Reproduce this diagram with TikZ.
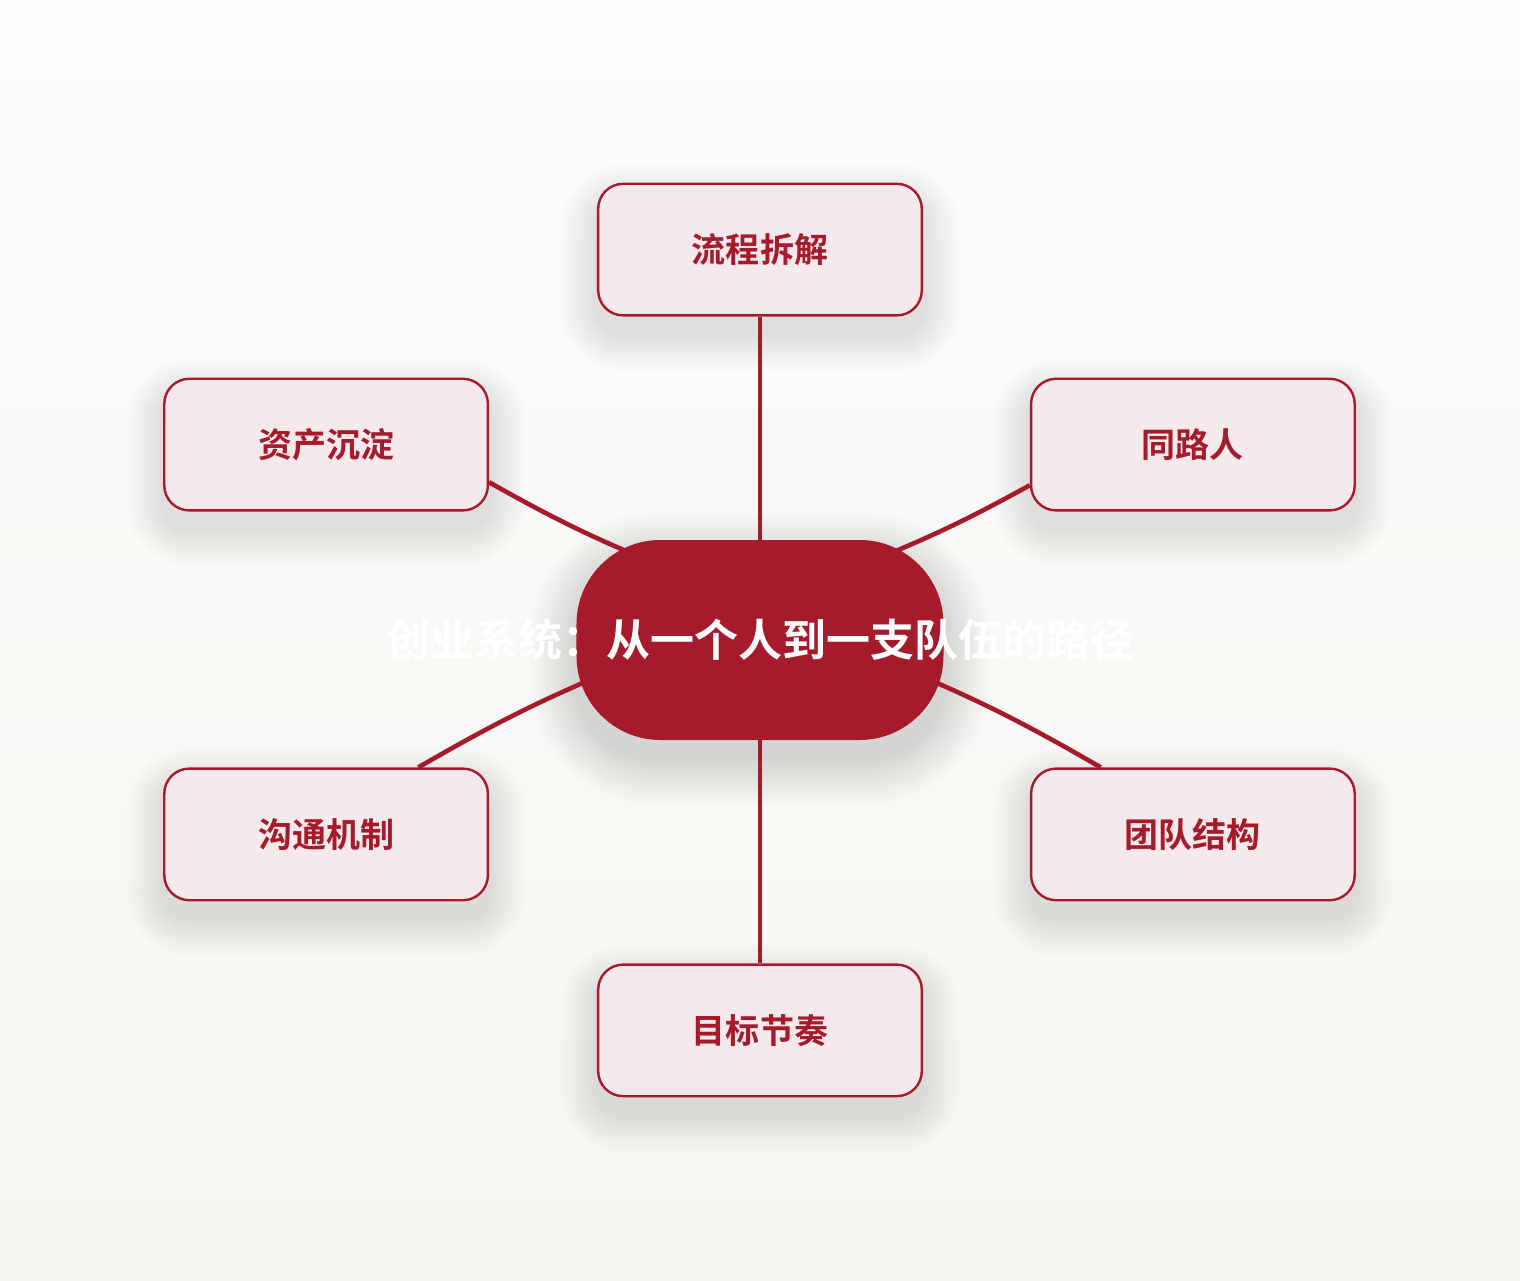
\documentclass[tikz,border=0pt]{standalone}
\usepackage{fontspec}
\setmainfont{Noto Sans CJK SC}[BoldFont={Noto Sans CJK SC Bold}]
\usepackage{xcolor}
\usetikzlibrary{positioning, calc, backgrounds}
\definecolor{hubred}{RGB}{165,27,43}
\definecolor{topicfill}{RGB}{245,233,235}
\definecolor{paperTop}{RGB}{253,253,252}
\definecolor{paperBottom}{RGB}{247,245,241}
\newcommand{\softshadow}[4]{%
  \foreach \k [evaluate=\k as \d using 1.3*\k, evaluate=\k as \r using #3+1.3*\k] in {1,...,#2}
    \fill[black, opacity=#4, rounded corners=\r pt]
      ($(#1.south west)+(-\d pt,-\d pt-9pt)$) rectangle ($(#1.north east)+(\d pt,\d pt-9pt)$);}

\begin{document}
\begin{tikzpicture}[node distance=111.5pt, every node/.style={font=\bfseries},
  hub/.style={rectangle, rounded corners=42pt, fill=hubred, minimum width=183.5pt, minimum height=100pt, inner sep=0pt, text=white, font=\bfseries\fontsize{22pt}{26pt}\selectfont},
  topic/.style={draw=hubred, line width=1.2pt, rectangle, rounded corners=12.5pt, fill=topicfill, minimum width=161.8pt, minimum height=65.8pt, text=hubred, font=\bfseries\fontsize{17pt}{20pt}\selectfont},
  link/.style={draw=hubred, line width=2.3pt}]
\useasboundingbox (-380pt,-320pt) rectangle (380pt,320pt);
\node (hub) [hub] {\makebox[0pt]{创业系统：从一个人到一支队伍的路径}};
\node (flow) [topic, above=of hub] {流程拆解};
\node (goals) [topic, below=of hub] {目标节奏};
\node (assets) [topic, above left=14pt and 43.5pt of hub] {资产沉淀};
\node (peers) [topic, above right=14pt and 43pt of hub] {同路人};
\node (comms) [topic, below left=13.5pt and 43.5pt of hub] {沟通机制};
\node (team) [topic, below right=13.5pt and 43pt of hub] {团队结构};

\begin{scope}[on background layer]
\fill[top color=paperTop, bottom color=paperBottom] (-380pt,-320pt) rectangle (380pt,320pt);
\softshadow{hub}{18}{40}{0.008}
\foreach \n in {flow, goals, assets, peers, comms, team}
  \softshadow{\n}{14}{12.5}{0.006};
\draw[link] (flow.south) -- (hub.center);
\draw[link] (hub.center) -- (goals.north);
\draw[link] (assets.-13) to[bend right=4] ($(hub.center)+(-40pt,33.5pt)$);
\draw[link] (peers.194) to[bend left=4] ($(hub.center)+(40pt,33.5pt)$);
\draw[link] (comms.36) to[bend left=4] ($(hub.center)+(-60pt,-9.5pt)$);
\draw[link] (team.144) to[bend right=4] ($(hub.center)+(60pt,-9.5pt)$);
\end{scope}
\end{tikzpicture}
\end{document}
